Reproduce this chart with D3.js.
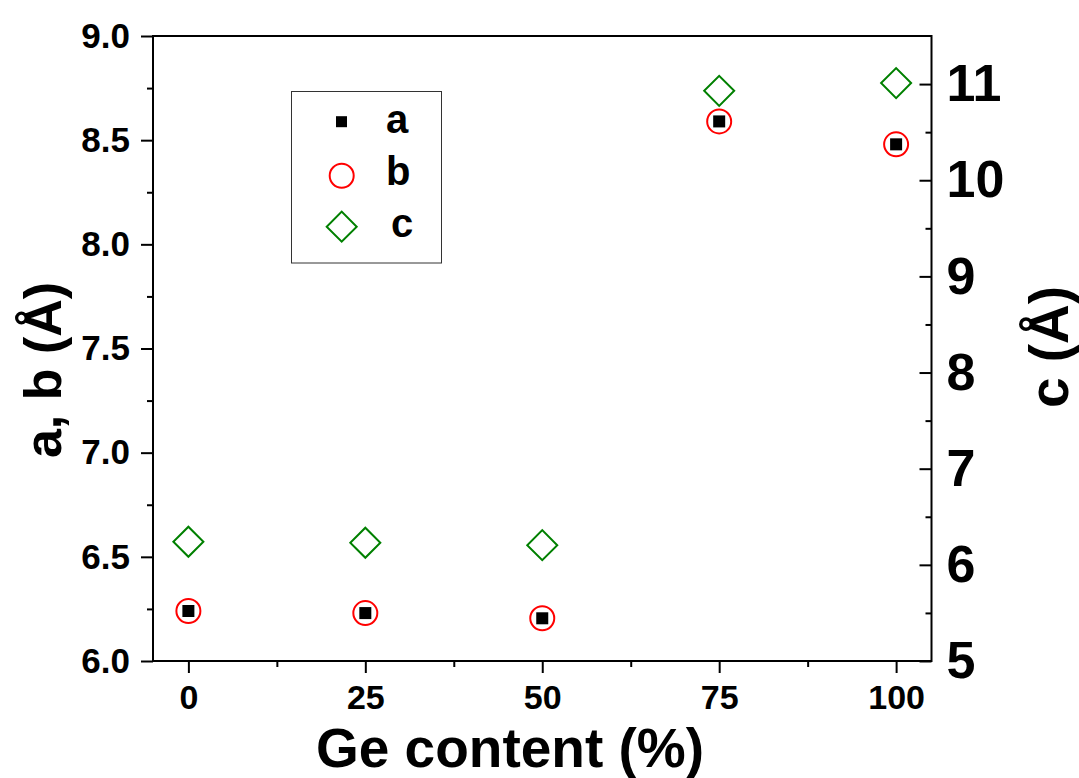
<!DOCTYPE html>
<html>
<head>
<meta charset="utf-8">
<script src="https://cdn.jsdelivr.net/npm/d3@7"></script>
<style>
  body { margin: 0; background: #fff; }
  svg text { font-family: "Liberation Sans", Arial, sans-serif; font-weight: bold; fill: #000; }
</style>
</head>
<body>
<div id="chart"></div>
<script>
// lattice parameters vs Ge content
const geContent = [0, 25, 50, 75, 100];
const aValues = [6.24, 6.23, 6.205, 8.59, 8.48];
const bValues = [6.24, 6.23, 6.205, 8.59, 8.48];
const cValues = [6.24, 6.23, 6.205, 10.93, 11.01];

const xTicks = [0, 25, 50, 75, 100];
const xMinorTicks = [12.5, 37.5, 62.5, 87.5];
const leftTicks = [6.0, 6.5, 7.0, 7.5, 8.0, 8.5, 9.0];
const leftMinorTicks = [6.25, 6.75, 7.25, 7.75, 8.25, 8.75];
const rightTicks = [5, 6, 7, 8, 9, 10, 11];
const rightMinorTicks = [5.5, 6.5, 7.5, 8.5, 9.5, 10.5];

const legendItems = ['a', 'b', 'c'];

const width = 1079, height = 778;
const margin = { top: 36, right: 147.5, bottom: 117, left: 153 };
const innerW = width - margin.left - margin.right;
const innerH = height - margin.top - margin.bottom;

const svg = d3.select('#chart').append('svg')
  .attr('width', width)
  .attr('height', height);

const g = svg.append('g').attr('transform', `translate(${margin.left},${margin.top})`);

const x = d3.scaleLinear().domain([-5, 105]).range([0, innerW]);
const yLeft = d3.scaleLinear().domain([6, 9]).range([innerH, 0]);
const yRight = d3.scaleLinear().domain([5, 11.5]).range([innerH, 0]);

function styleAxis(sel, fontSize) {
  sel.select('.domain').remove();
  sel.selectAll('line').attr('stroke', '#000').attr('stroke-width', 2);
  sel.selectAll('text').style('font-size', fontSize + 'px');
}

// minor ticks
g.append('g').attr('transform', `translate(0,${innerH})`)
  .call(d3.axisBottom(x).tickValues(xMinorTicks).tickSize(6).tickFormat(''))
  .call(s => styleAxis(s, 10));
g.append('g')
  .call(d3.axisLeft(yLeft).tickValues(leftMinorTicks).tickSize(6).tickFormat(''))
  .call(s => styleAxis(s, 10));
g.append('g').attr('transform', `translate(${innerW},0)`)
  .call(d3.axisRight(yRight).tickValues(rightMinorTicks).tickSize(-6).tickFormat(''))
  .call(s => styleAxis(s, 10));

// major ticks
g.append('g').attr('transform', `translate(0,${innerH})`)
  .call(d3.axisBottom(x).tickValues(xTicks).tickSize(12).tickPadding(12).tickFormat(d3.format('d')))
  .call(s => styleAxis(s, 34));
g.append('g')
  .call(d3.axisLeft(yLeft).tickValues(leftTicks).tickSize(12).tickPadding(11).tickFormat(d3.format('.1f')))
  .call(s => styleAxis(s, 35));
g.append('g').attr('transform', `translate(${innerW},0)`)
  .call(d3.axisRight(yRight).tickValues(rightTicks).tickSizeInner(-12).tickSizeOuter(0).tickPadding(15).tickFormat(d3.format('d')))
  .call(s => styleAxis(s, 52));

// frame
g.append('rect')
  .attr('width', innerW).attr('height', innerH)
  .attr('fill', 'none').attr('stroke', '#000').attr('stroke-width', 2);

const diamond = d3.symbol().type(d3.symbolSquare).size(450);

// b: open red circles
g.append('g').selectAll('circle')
  .data(geContent.map((d, i) => [d, bValues[i]]))
  .join('circle')
  .attr('cx', d => x(d[0]))
  .attr('cy', d => yLeft(d[1]))
  .attr('r', 12)
  .attr('fill', 'none')
  .attr('stroke', '#ff0000')
  .attr('stroke-width', 2);

// a: filled black squares
g.append('g').selectAll('rect')
  .data(geContent.map((d, i) => [d, aValues[i]]))
  .join('rect')
  .attr('x', d => x(d[0]) - 6)
  .attr('y', d => yLeft(d[1]) - 6)
  .attr('width', 12).attr('height', 12)
  .attr('fill', '#000');

// c: open green diamonds on the right axis
g.append('g').selectAll('path')
  .data(geContent.map((d, i) => [d, cValues[i]]))
  .join('path')
  .attr('d', diamond)
  .attr('transform', d => `translate(${x(d[0])},${yRight(d[1])}) rotate(45)`)
  .attr('fill', 'none')
  .attr('stroke', '#008000')
  .attr('stroke-width', 2);

// legend
const legend = svg.append('g');
legend.append('rect')
  .attr('x', 291.5).attr('y', 91.5).attr('width', 150).attr('height', 171.5)
  .attr('fill', '#fff').attr('stroke', '#333').attr('stroke-width', 1);
const legY = [121.7, 175.7, 226.7];
legend.append('rect').attr('x', 336).attr('y', legY[0] - 5.5).attr('width', 11).attr('height', 11).attr('fill', '#000');
legend.append('circle').attr('cx', 341.7).attr('cy', legY[1]).attr('r', 12)
  .attr('fill', 'none').attr('stroke', '#ff0000').attr('stroke-width', 2);
legend.append('path').attr('d', diamond)
  .attr('transform', `translate(341.7,${legY[2]}) rotate(45)`)
  .attr('fill', 'none').attr('stroke', '#008000').attr('stroke-width', 2);
legend.selectAll('text.lab')
  .data(legendItems)
  .join('text')
  .attr('class', 'lab')
  .attr('x', (d, i) => i === 2 ? 391 : 386)
  .attr('y', (d, i) => [132.5, 185, 236.5][i])
  .style('font-size', '40px')
  .text(d => d);

// axis titles
svg.append('text')
  .attr('x', 510)
  .attr('y', 767)
  .attr('text-anchor', 'middle')
  .style('font-size', '55px')
  .text('Ge content (%)');

svg.append('text')
  .attr('transform', 'translate(61,370) rotate(-90)')
  .attr('text-anchor', 'middle')
  .style('font-size', '52px')
  .text('a, b (Å)');

svg.append('text')
  .attr('transform', 'translate(1068,347) rotate(-90)')
  .attr('text-anchor', 'middle')
  .style('font-size', '55px')
  .text('c (Å)');
</script>
</body>
</html>
